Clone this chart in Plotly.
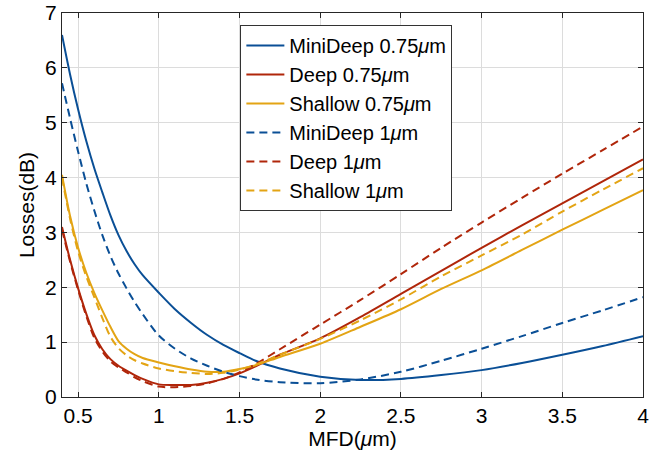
import plotly.graph_objects as go

mfd = [0.4, 0.45, 0.5, 0.55, 0.6, 0.65, 0.7, 0.75, 0.8, 0.85, 0.9, 1.0, 1.1, 1.2, 1.3, 1.4, 1.5,
       1.6, 1.75, 2.0, 2.25, 2.5, 2.75, 3.0, 3.25, 3.5, 3.75, 4.0]

minideep_075 = [6.6, 5.88, 5.24, 4.67, 4.17, 3.73, 3.31, 2.95, 2.66, 2.42, 2.22, 1.9, 1.6, 1.35, 1.13, 0.95, 0.80,
                0.66, 0.52, 0.37, 0.31, 0.33, 0.40, 0.49, 0.62, 0.77, 0.93, 1.11]
deep_075 = [3.1, 2.5, 1.98, 1.52, 1.13, 0.87, 0.69, 0.57, 0.48, 0.40, 0.33, 0.23, 0.22, 0.22, 0.26, 0.33, 0.43,
            0.56, 0.77, 1.07, 1.46, 1.88, 2.30, 2.72, 3.13, 3.53, 3.93, 4.33]
shallow_075 = [4.05, 3.3, 2.72, 2.27, 1.9, 1.58, 1.28, 1.02, 0.88, 0.78, 0.71, 0.63, 0.56, 0.50, 0.46, 0.46, 0.51,
               0.58, 0.73, 0.97, 1.28, 1.60, 1.97, 2.31, 2.68, 3.05, 3.41, 3.77]
minideep_1 = [5.72, 5.08, 4.47, 3.9, 3.4, 2.95, 2.57, 2.25, 1.98, 1.73, 1.51, 1.12, 0.88, 0.70, 0.57, 0.46, 0.38,
              0.32, 0.27, 0.25, 0.32, 0.46, 0.66, 0.88, 1.11, 1.35, 1.58, 1.82]
deep_1 = [3.05, 2.47, 1.95, 1.48, 1.08, 0.83, 0.65, 0.54, 0.45, 0.36, 0.29, 0.19, 0.18, 0.20, 0.25, 0.33, 0.45,
          0.60, 0.87, 1.32, 1.77, 2.24, 2.72, 3.18, 3.63, 4.07, 4.50, 4.93]
shallow_1 = [4.0, 3.25, 2.65, 2.2, 1.82, 1.44, 1.1, 0.89, 0.76, 0.67, 0.61, 0.52, 0.47, 0.44, 0.42, 0.44, 0.50,
             0.59, 0.77, 1.06, 1.40, 1.78, 2.20, 2.58, 2.96, 3.38, 3.78, 4.17]

x_ticks = [0.5, 1, 1.5, 2, 2.5, 3, 3.5, 4]
x_tick_labels = ["0.5", "1", "1.5", "2", "2.5", "3", "3.5", "4"]
y_ticks = [0, 1, 2, 3, 4, 5, 6, 7]

BLUE = "#0A4F96"
RED = "#B0260A"
YELLOW = "#E3A414"
DASH = "8px,5px"

series = [
    ("MiniDeep 0.75<i>μ</i>m", minideep_075, BLUE, "solid"),
    ("Deep 0.75<i>μ</i>m", deep_075, RED, "solid"),
    ("Shallow 0.75<i>μ</i>m", shallow_075, YELLOW, "solid"),
    ("MiniDeep 1<i>μ</i>m", minideep_1, BLUE, DASH),
    ("Deep 1<i>μ</i>m", deep_1, RED, DASH),
    ("Shallow 1<i>μ</i>m", shallow_1, YELLOW, DASH),
]

fig = go.Figure()
for name, ys, color, dash in series:
    fig.add_trace(go.Scatter(x=mfd, y=ys, mode="lines", name=name,
                             line=dict(color=color, width=2, dash=dash, shape="spline", smoothing=0.8)))

FONT = "Liberation Sans, Arial, Helvetica, sans-serif"
fig.update_layout(
    width=671, height=468,
    margin=dict(l=62, r=28, t=13, b=71),
    paper_bgcolor="white", plot_bgcolor="white",
    font=dict(family=FONT, size=21, color="#000000"),
    showlegend=True,
    legend=dict(x=0.307, y=0.969, xanchor="left", yanchor="top",
                bgcolor="white", bordercolor="#333333", borderwidth=1,
                font=dict(family=FONT, size=20, color="#000000"),
                tracegroupgap=0, itemwidth=38),
)
fig.update_xaxes(range=[0.4, 4], tickvals=x_ticks, ticktext=x_tick_labels,
                 ticks="inside", ticklen=5, tickcolor="#262626",
                 showline=True, linecolor="#262626", linewidth=1, mirror="ticks",
                 showgrid=True, gridcolor="#DCDCDC", gridwidth=1, zeroline=False,
                 automargin=False,
                 title=dict(text="MFD(<i>μ</i>m)", font=dict(size=21), standoff=4),
                 tickfont=dict(size=21))
fig.update_yaxes(range=[0, 7], tickvals=y_ticks,
                 ticks="inside", ticklen=5, tickcolor="#262626",
                 showline=True, linecolor="#262626", linewidth=1, mirror="ticks",
                 showgrid=True, gridcolor="#DCDCDC", gridwidth=1, zeroline=False,
                 automargin=False,
                 title=dict(text="Losses(dB)", font=dict(size=21), standoff=4),
                 tickfont=dict(size=21))

fig.write_html("out.html")
